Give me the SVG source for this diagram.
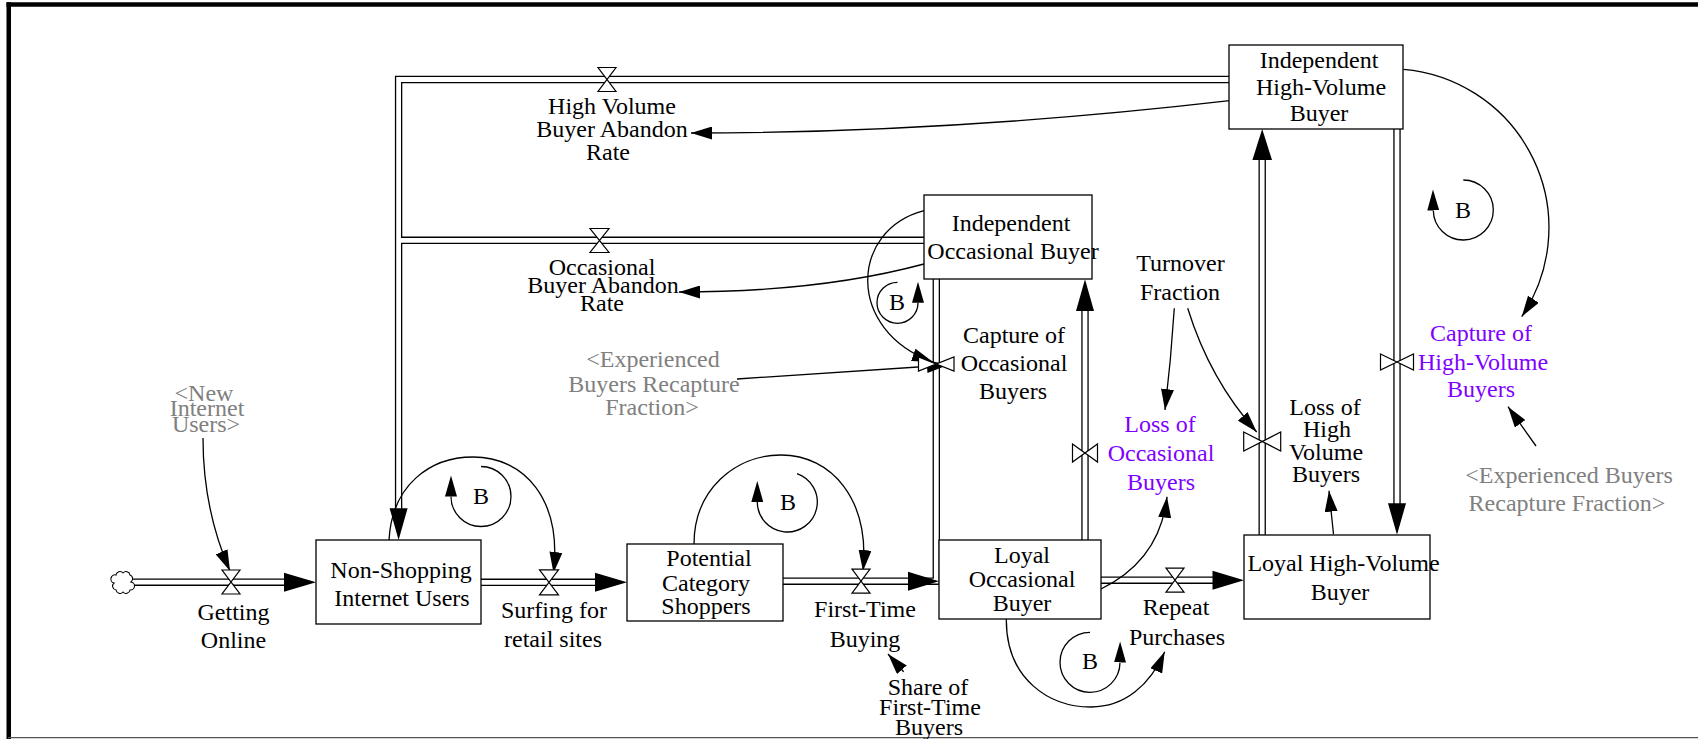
<svg xmlns="http://www.w3.org/2000/svg" width="1698" height="739" viewBox="0 0 1698 739">
  <style>
    .t { font-family: "Liberation Serif", "Times New Roman", serif; font-size: 24px; text-anchor: middle; fill: #000; }
    .g { fill: #808080; }
    .p { fill: #8000ff; }
    .box { fill: #fff; stroke: #000; stroke-width: 1.3; }
    .pipeO { fill: none; stroke: #000; stroke-width: 7.4; stroke-linejoin: miter; stroke-linecap: butt; }
    .pipeI { fill: none; stroke: #fff; stroke-width: 4.8; stroke-linejoin: miter; stroke-linecap: butt; }
    .valve { fill: #fff; stroke: #000; stroke-width: 1.2; stroke-linejoin: miter; }
    .head { fill: #000; stroke: none; }
    .link { fill: none; stroke: #000; stroke-width: 1.3; marker-end: url(#ah); }
    .loop { fill: none; stroke: #000; stroke-width: 1.3; marker-end: url(#lp); }
  </style>
  <defs>
    <marker id="ah" viewBox="0 0 21 13" refX="21" refY="6.5" markerWidth="21" markerHeight="13" markerUnits="userSpaceOnUse" orient="auto">
      <path d="M0,0 L21,6.5 L0,13 z" fill="#000"/>
    </marker>
    <marker id="lp" viewBox="0 0 21 12" refX="0" refY="6" markerWidth="21" markerHeight="12" markerUnits="userSpaceOnUse" orient="auto">
      <path d="M0,0 L21,6 L0,12 z" fill="#000"/>
    </marker>
  </defs>

  <rect x="0" y="0" width="1698" height="739" fill="#fff"/>

  <!-- frame -->
  <g id="frame">
    <line x1="6.5" y1="4.5" x2="1698" y2="4.5" stroke="#000" stroke-width="4.5"/>
    <line x1="8.75" y1="2.3" x2="8.75" y2="739" stroke="#000" stroke-width="4.5"/>
    <line x1="8" y1="737.6" x2="1698" y2="737.6" stroke="#555" stroke-width="1.3"/>
  </g>

  <!-- connectors: flow pipes (outline pass, then hollow pass), pipe heads, and information links -->
  <g id="connectors">
    <g id="pipes-outline" class="pipeO">
      <path d="M131,582.2 H285"/>
      <path d="M481,582.3 H596"/>
      <path d="M783,581.2 H909"/>
      <path d="M936.3,279 V581.2 H909"/>
      <path d="M1085,540 V310"/>
      <path d="M1101,580.2 H1213"/>
      <path d="M1262.2,534.7 V159"/>
      <path d="M1397,129 V504"/>
      <path d="M1229,79.5 H398.6 V509"/>
      <path d="M924,240.3 H398.6"/>
    </g>
    <g id="pipes-inner" class="pipeI">
      <path d="M131,582.2 H285"/>
      <path d="M481,582.3 H596"/>
      <path d="M783,581.2 H909"/>
      <path d="M936.3,279 V581.2 H909"/>
      <path d="M1085,540 V310"/>
      <path d="M1101,580.2 H1213"/>
      <path d="M1262.2,534.7 V159"/>
      <path d="M1397,129 V504"/>
      <path d="M1229,79.5 H398.6 V509"/>
      <path d="M924,240.3 H398.6"/>
    </g>
    <g id="pipe-heads" class="head">
      <path d="M284,572.7 L316,582.2 L284,591.7 z"/>
      <path d="M595,572.8 L627,582.3 L595,591.8 z"/>
      <path d="M908,571.7 L939,581.2 L908,590.7 z"/>
      <path d="M1076,311 L1085,279.3 L1094,311 z"/>
      <path d="M1212.5,570.7 L1244,580.2 L1212.5,589.7 z"/>
      <path d="M1252.4,160 L1262.2,129 L1272,160 z"/>
      <path d="M1388,503.3 L1397,534.7 L1406,503.3 z"/>
      <path d="M389.6,508.3 L398.6,540 L407.6,508.3 z"/>
    </g>

    <!-- information links -->
    <path class="link" d="M203,438 C203,485 212,530 230,571"/>
    <path class="link" d="M389,540 C392,485 430,457 473,457 C525,457 562,500 553.5,573"/>
    <path class="link" d="M694,544 C694,490 735,455 781,455 C832,455 870,500 863,571"/>
    <path class="link" d="M924,210.7 C850,230 845,330 933,362"/>
    <path class="link" d="M737,379 L948,365"/>
    <path class="link" d="M1229.5,100.7 Q950,133 691,133"/>
    <path class="link" d="M924,264 Q820,292 679,292"/>
    <path class="link" d="M1403.4,69.3 A159,159 0 0 1 1521.7,316.7"/>
    <path class="link" d="M1536,446 L1508,406.7"/>
    <path class="link" d="M1174.3,308.3 Q1171,360 1165,410"/>
    <path class="link" d="M1187.7,308.3 Q1210,380 1256.7,432"/>
    <path class="link" d="M1333.5,534.3 L1329,490.7"/>
    <path class="link" d="M1101,589 Q1160,560 1167,496.7"/>
    <path class="link" d="M1006.3,619 C1006,680 1050,707 1091,707 C1125,707 1150,685 1164.7,651.7"/>
    <path class="link" d="M903.6,671.7 L888,654"/>

    <!-- loop polarity arcs -->
    <path class="loop" d="M481,466.5 A30,30 0 1 1 451,496.5"/>
    <path class="loop" d="M797,473.6 A30,30 0 1 1 757.3,502"/>
    <path class="loop" d="M1090,632.3 A30,30 0 1 0 1120,662.5"/>
    <path class="loop" d="M897.5,282.3 A20.5,20.5 0 1 0 918,302.8"/>
    <path class="loop" d="M1463.3,180 A30,30 0 1 1 1433.3,210.5"/>
  </g>

  <!-- stocks -->
  <g id="non-shopping-internet-users">
    <rect class="box" x="316" y="540" width="165" height="84"/>
    <text class="t" x="401" y="578">Non-Shopping</text>
    <text class="t" x="402" y="606">Internet Users</text>
  </g>
  <g id="potential-category-shoppers">
    <rect class="box" x="627" y="544" width="156" height="77"/>
    <text class="t" x="709" y="566">Potential</text>
    <text class="t" x="706" y="591">Category</text>
    <text class="t" x="706" y="614">Shoppers</text>
  </g>
  <g id="loyal-occasional-buyer">
    <rect class="box" x="939" y="540" width="162" height="79"/>
    <text class="t" x="1022" y="563">Loyal</text>
    <text class="t" x="1022" y="587">Occasional</text>
    <text class="t" x="1022" y="611">Buyer</text>
  </g>
  <g id="loyal-high-volume-buyer">
    <rect class="box" x="1244" y="535" width="186" height="84"/>
    <text class="t" x="1343.5" y="571">Loyal High-Volume</text>
    <text class="t" x="1340" y="600">Buyer</text>
  </g>
  <g id="independent-occasional-buyer">
    <rect class="box" x="924" y="195" width="168" height="84"/>
    <text class="t" x="1011" y="231">Independent</text>
    <text class="t" x="1013" y="259">Occasional Buyer</text>
  </g>
  <g id="independent-high-volume-buyer">
    <rect class="box" x="1229" y="45" width="174" height="84"/>
    <text class="t" x="1319" y="68">Independent</text>
    <text class="t" x="1321" y="95">High-Volume</text>
    <text class="t" x="1319" y="121">Buyer</text>
  </g>

  <!-- source cloud -->
  <g id="source-cloud">
    <path d="M116,575 a4,4 0 0 1 7,-2 a4,4 0 0 1 7,2 a4,4 0 0 1 1,7 a4,4 0 0 1 -1,8 a4,4 0 0 1 -7,2 a4,4 0 0 1 -7,-2 a4,4 0 0 1 -2,-7 a4,4 0 0 1 2,-8 z" fill="#fff" stroke="#000" stroke-width="1.1"/>
  </g>

  <!-- flows: valve + rate name -->
  <g id="getting-online">
    <path class="valve" d="M222,570 L240,570 L222,594 L240,594 z"/>
    <text class="t" x="233.5" y="620">Getting</text>
    <text class="t" x="233.5" y="648">Online</text>
  </g>
  <g id="surfing-for-retail-sites">
    <path class="valve" d="M539.5,569.8 L558.5,569.8 L539.5,594.8 L558.5,594.8 z"/>
    <text class="t" x="554" y="618">Surfing for</text>
    <text class="t" x="553" y="647">retail sites</text>
  </g>
  <g id="first-time-buying">
    <path class="valve" d="M852,569.2 L870,569.2 L852,593.2 L870,593.2 z"/>
    <text class="t" x="865" y="617">First-Time</text>
    <text class="t" x="865" y="647">Buying</text>
  </g>
  <g id="repeat-purchases">
    <path class="valve" d="M1166,568.2 L1184,568.2 L1166,592.2 L1184,592.2 z"/>
    <text class="t" x="1176" y="615">Repeat</text>
    <text class="t" x="1177" y="645">Purchases</text>
  </g>
  <g id="high-volume-buyer-abandon-rate">
    <path class="valve" d="M598,67.5 L616,67.5 L598,91.5 L616,91.5 z"/>
    <text class="t" x="612" y="114">High Volume</text>
    <text class="t" x="612" y="137">Buyer Abandon</text>
    <text class="t" x="608" y="160">Rate</text>
  </g>
  <g id="occasional-buyer-abandon-rate">
    <path class="valve" d="M590,228.5 L609,228.5 L590,252.5 L609,252.5 z"/>
    <text class="t" x="602" y="275">Occasional</text>
    <text class="t" x="603" y="293">Buyer Abandon</text>
    <text class="t" x="602" y="311">Rate</text>
  </g>
  <g id="capture-of-occasional-buyers">
    <path class="valve" d="M918.5,357 L954,371 L954,357 L918.5,371 z"/>
    <text class="t" x="1014" y="343">Capture of</text>
    <text class="t" x="1014" y="371">Occasional</text>
    <text class="t" x="1013" y="399">Buyers</text>
  </g>
  <g id="loss-of-occasional-buyers">
    <path class="valve" d="M1072.5,444 L1097.5,462 L1097.5,444 L1072.5,462 z"/>
    <text class="t p" x="1160" y="432">Loss of</text>
    <text class="t p" x="1161" y="461">Occasional</text>
    <text class="t p" x="1161" y="490">Buyers</text>
  </g>
  <g id="loss-of-high-volume-buyers">
    <path class="valve" d="M1243.7,432 L1280.7,451 L1280.7,432 L1243.7,451 z"/>
    <text class="t" x="1325" y="415">Loss of</text>
    <text class="t" x="1327" y="437">High</text>
    <text class="t" x="1326" y="460">Volume</text>
    <text class="t" x="1326" y="482">Buyers</text>
  </g>
  <g id="capture-of-high-volume-buyers">
    <path class="valve" d="M1380.5,354 L1413.5,370 L1413.5,354 L1380.5,370 z"/>
    <text class="t p" x="1481" y="341">Capture of</text>
    <text class="t p" x="1483" y="370">High-Volume</text>
    <text class="t p" x="1481" y="397">Buyers</text>
  </g>

  <!-- auxiliaries and shadow variables -->
  <g id="new-internet-users">
    <text class="t g" x="204" y="401">&lt;New</text>
    <text class="t g" x="207" y="416">Internet</text>
    <text class="t g" x="206" y="432">Users&gt;</text>
  </g>
  <g id="experienced-buyers-recapture-fraction-1">
    <text class="t g" x="653" y="367">&lt;Experienced</text>
    <text class="t g" x="654" y="392">Buyers Recapture</text>
    <text class="t g" x="652" y="415">Fraction&gt;</text>
  </g>
  <g id="experienced-buyers-recapture-fraction-2">
    <text class="t g" x="1569" y="483">&lt;Experienced Buyers</text>
    <text class="t g" x="1567" y="511">Recapture Fraction&gt;</text>
  </g>
  <g id="turnover-fraction">
    <text class="t" x="1180.5" y="271">Turnover</text>
    <text class="t" x="1180" y="300">Fraction</text>
  </g>
  <g id="share-of-first-time-buyers">
    <text class="t" x="928" y="695">Share of</text>
    <text class="t" x="930" y="715">First-Time</text>
    <text class="t" x="929" y="735">Buyers</text>
  </g>

  <!-- loop polarity labels -->
  <g id="loop-labels">
    <text class="t" x="481" y="504">B</text>
    <text class="t" x="788" y="510">B</text>
    <text class="t" x="1090" y="669">B</text>
    <text class="t" x="897" y="310">B</text>
    <text class="t" x="1463" y="218">B</text>
  </g>
</svg>
